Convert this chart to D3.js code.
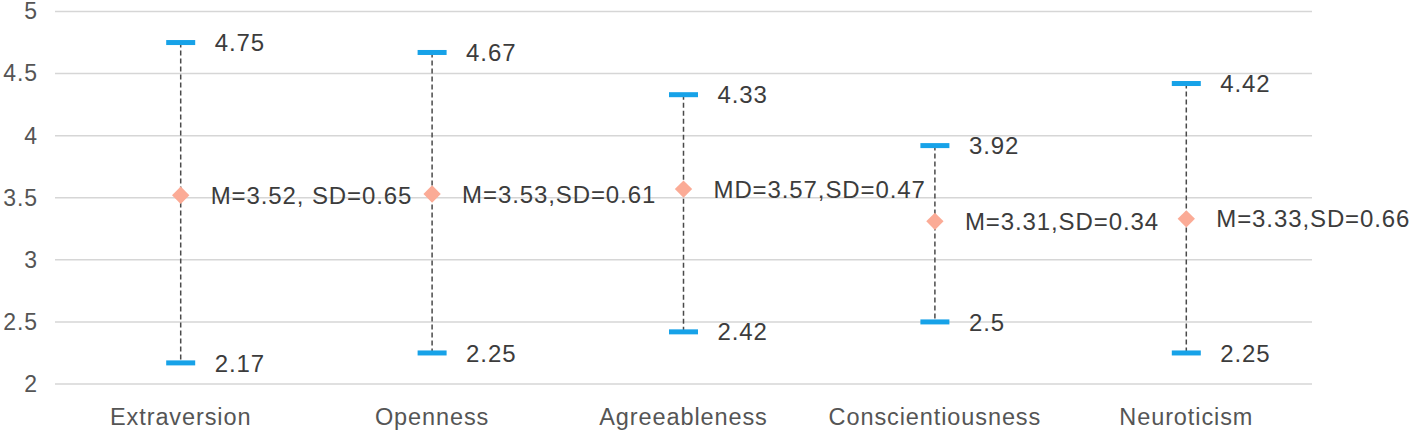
<!DOCTYPE html>
<html>
<head>
<meta charset="utf-8">
<script src="https://cdn.jsdelivr.net/npm/d3@7"></script>
<style>
  html, body { margin: 0; padding: 0; background: #fff; }
  svg text { font-family: "Liberation Sans", Arial, Helvetica, sans-serif; letter-spacing: 0.9px; }
</style>
</head>
<body>
<div id="chart"></div>
<script>
// Data
const categories = ['Extraversion', 'Openness', 'Agreeableness', 'Conscientiousness', 'Neuroticism'];
const maxValues = [4.75, 4.67, 4.33, 3.92, 4.42];
const minValues = [2.17, 2.25, 2.42, 2.5, 2.25];
const meanValues = [3.52, 3.53, 3.57, 3.31, 3.33];
const meanLabels = ['M=3.52, SD=0.65', 'M=3.53,SD=0.61', 'MD=3.57,SD=0.47', 'M=3.31,SD=0.34', 'M=3.33,SD=0.66'];
const yTicks = [2, 2.5, 3, 3.5, 4, 4.5, 5];

const W = 1416, H = 435;
const margin = { top: 11.5, right: 104, bottom: 51, left: 55 };

const svg = d3.select('#chart').append('svg')
  .attr('width', W)
  .attr('height', H);

const x = d3.scaleBand()
  .domain(categories)
  .range([margin.left, W - margin.right]);

const y = d3.scaleLinear()
  .domain([2, 5])
  .range([H - margin.bottom, margin.top]);

// Gridlines
svg.append('g')
  .selectAll('line')
  .data(yTicks)
  .join('line')
  .attr('x1', margin.left)
  .attr('x2', W - margin.right)
  .attr('y1', d => y(d))
  .attr('y2', d => y(d))
  .attr('stroke', '#d6d6d6')
  .attr('stroke-width', 1.5);

// Y axis labels
const yAxis = svg.append('g')
  .attr('transform', `translate(${margin.left},0)`)
  .call(d3.axisLeft(y).tickValues(yTicks).tickSize(0).tickPadding(17).tickFormat(d3.format('')));
yAxis.select('.domain').remove();
yAxis.selectAll('text')
  .attr('fill', '#555')
  .style('font-size', '23px');

// X axis labels
const xAxis = svg.append('g')
  .attr('transform', `translate(0,${H - margin.bottom})`)
  .call(d3.axisBottom(x).tickSize(0).tickPadding(24));
xAxis.select('.domain').remove();
xAxis.selectAll('text')
  .attr('fill', '#555')
  .style('font-size', '23.5px');

const rows = categories.map((c, i) => ({
  cat: c, max: maxValues[i], min: minValues[i], mean: meanValues[i], label: meanLabels[i]
}));

const cx = d => x(d.cat) + x.bandwidth() / 2;

const g = svg.append('g');

// Dashed range lines
g.selectAll('line.range')
  .data(rows)
  .join('line')
  .attr('class', 'range')
  .attr('x1', cx)
  .attr('x2', cx)
  .attr('y1', d => y(d.max))
  .attr('y2', d => y(d.min))
  .attr('stroke', '#4a4a4a')
  .attr('stroke-width', 1.5)
  .attr('stroke-dasharray', '5,3');

// Caps for max and min
const capW = 29, capH = 5;
const caps = rows.flatMap(d => [{ d, v: d.max }, { d, v: d.min }]);
g.selectAll('rect.cap')
  .data(caps)
  .join('rect')
  .attr('class', 'cap')
  .attr('x', c => cx(c.d) - capW / 2)
  .attr('y', c => y(c.v) - capH / 2)
  .attr('width', capW)
  .attr('height', capH)
  .attr('fill', '#17a2e8');

g.selectAll('text.cap-label')
  .data(caps)
  .join('text')
  .attr('class', 'cap-label')
  .attr('x', c => cx(c.d) + 34)
  .attr('y', c => y(c.v))
  .attr('dy', '0.36em')
  .attr('fill', '#3c3c3c')
  .style('font-size', '24px')
  .text(c => c.v);

// Mean diamonds
g.selectAll('path.mean')
  .data(rows)
  .join('path')
  .attr('class', 'mean')
  .attr('d', d3.symbol(d3.symbolSquare, 150))
  .attr('transform', d => `translate(${cx(d)},${y(d.mean)}) rotate(45)`)
  .attr('fill', '#fbab96');

g.selectAll('text.mean-label')
  .data(rows)
  .join('text')
  .attr('class', 'mean-label')
  .attr('x', d => cx(d) + 30)
  .attr('y', d => y(d.mean))
  .attr('dy', '0.36em')
  .attr('fill', '#3c3c3c')
  .style('font-size', '24px')
  .text(d => d.label);
</script>
</body>
</html>
